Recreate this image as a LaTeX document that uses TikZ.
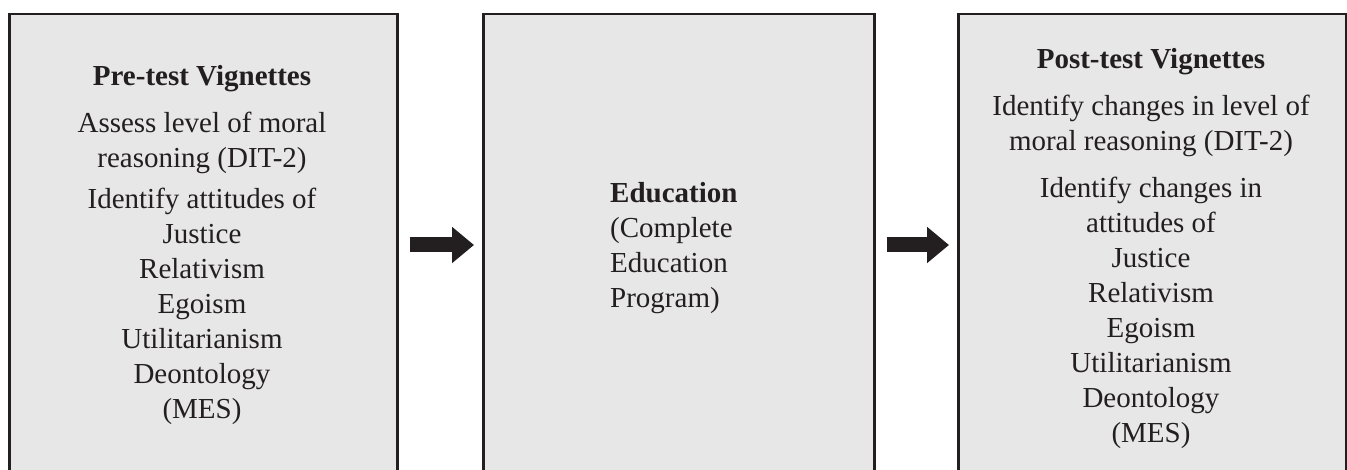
\documentclass[tikz,border=0pt]{standalone}
\usepackage{fontspec}
\setmainfont{Liberation Serif}
\usepackage{xcolor}
\usepackage{tikz}
\usetikzlibrary{arrows.meta}
\definecolor{boxfill}{RGB}{231,231,231}
\definecolor{ink}{RGB}{35,31,32}
\tikzset{
  stagebox/.style={draw=ink,fill=boxfill,line width=2.5pt,inner sep=0pt,
    minimum width=#1,minimum height=507pt,anchor=north west},
  stagetext/.style={inner sep=0pt,text=ink,font=\fontsize{29}{35}\selectfont},
  flow/.style={draw=ink,line width=15pt,-{Triangle[length=22pt,width=35pt]},
    shorten <=11pt,shorten >=8pt}
}
\begin{document}
\begin{tikzpicture}[x=1pt,y=-1pt]
        \useasboundingbox (0,0) rectangle (1347,470);
        \clip (0,0) rectangle (1347,470);
        % Boxes
        \node[stagebox=388pt] (pre) at (8,13) {};
        \node[stagebox=391pt] (edu) at (482,13) {};
        \node[stagebox=388pt] (post) at (957,13) {};
        % Texts (anchored at the baseline of the last line)
        \node[stagetext,align=center,anchor=base] (pretxt) at (202,418)
          {\textbf{Pre-test Vignettes}\\[12pt]
           Assess level of moral\\ reasoning (DIT-2)\\[6pt]
           Identify attitudes of\\ Justice\\ Relativism\\ Egoism\\
           Utilitarianism\\ Deontology\\ (MES)};
        \node[stagetext,align=left,anchor=base west] (edutxt) at (610,308)
          {\textbf{Education}\\ (Complete\\ Education\\ Program)};
        \node[stagetext,align=center,anchor=base] (posttxt) at (1151,442)
          {\textbf{Post-test Vignettes}\\[12pt]
           Identify changes in level of\\ moral reasoning (DIT-2)\\[12pt]
           Identify changes in\\ attitudes of\\ Justice\\ Relativism\\ Egoism\\
           Utilitarianism\\ Deontology\\ (MES)};
        % Arrows
        \coordinate (mid) at (0,245);
        \draw[flow] (pre.east |- mid) -- (edu.west |- mid);
        \draw[flow] (edu.east |- mid) -- (post.west |- mid);
    \end{tikzpicture}
\end{document}
